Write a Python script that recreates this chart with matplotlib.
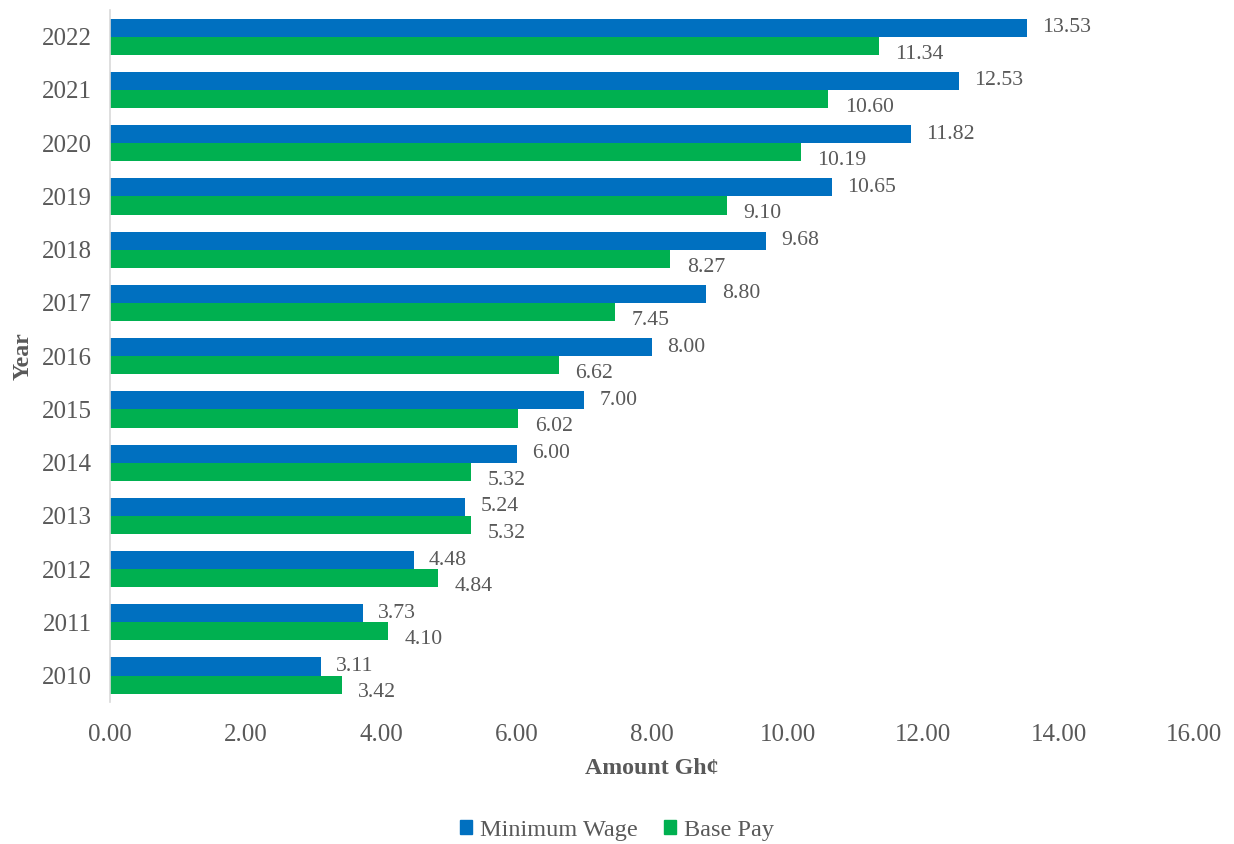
import matplotlib
matplotlib.use("Agg")
import matplotlib.pyplot as plt
import numpy as np
from matplotlib.patches import Patch

# datos
anios = ["2010", "2011", "2012", "2013", "2014", "2015", "2016",
         "2017", "2018", "2019", "2020", "2021", "2022"]
salario_minimo = [3.11, 3.73, 4.48, 5.24, 6.00, 7.00, 8.00, 8.80, 9.68, 10.65, 11.82, 12.53, 13.53]
pago_base = [3.42, 4.10, 4.84, 5.32, 5.32, 6.02, 6.62, 7.45, 8.27, 9.10, 10.19, 10.60, 11.34]

AZUL = "#0070C0"
VERDE = "#00B050"
GRIS = "#595959"

plt.rcParams["font.family"] = ["Liberation Serif", "DejaVu Serif"]

fig = plt.figure(figsize=(12.34, 8.44), dpi=100)
ax = fig.add_axes([0.0891, 0.168, 0.8788, 0.820])

y = np.arange(len(anios))
alto = 0.34
ax.barh(y + alto / 2, salario_minimo, height=alto, color=AZUL, label="Minimum Wage")
ax.barh(y - alto / 2, pago_base, height=alto, color=VERDE, label="Base Pay")

# etiquetas de datos (las verdes quedan un poco mas abajo, como en Excel)
for yi, v in zip(y, salario_minimo):
    ax.annotate(f"{v:.2f}", xy=(v, yi + alto / 2), xytext=(11, 0), textcoords="offset points",
                va="center", ha="left", fontsize=15.7, color=GRIS)
for yi, v in zip(y, pago_base):
    ax.annotate(f"{v:.2f}", xy=(v, yi - alto / 2), xytext=(12, -6), textcoords="offset points",
                va="center", ha="left", fontsize=15.7, color=GRIS)

ax.set_xlim(0, 16)
ax.set_ylim(-0.5, len(anios) - 0.5)
ax.set_xticks(np.arange(0, 17, 2))
ax.set_xticklabels([f"{v:.2f}" for v in np.arange(0, 17, 2)])
ax.set_yticks(y)
ax.set_yticklabels(anios)
ax.tick_params(axis="both", length=0, labelsize=18, labelcolor=GRIS)
ax.tick_params(axis="x", pad=16)
ax.tick_params(axis="y", pad=13)

for lado in ("top", "right", "bottom"):
    ax.spines[lado].set_visible(False)
ax.spines["left"].set_color("#D9D9D9")
ax.spines["left"].set_linewidth(1.2)

ax.set_xlabel("Amount Gh\u00a2", fontsize=17.2, fontweight="bold", color=GRIS, labelpad=8)
ax.set_ylabel("Year", fontsize=17.2, fontweight="bold", color=GRIS, labelpad=6)

manejadores = [Patch(color=AZUL, label="Minimum Wage"), Patch(color=VERDE, label="Base Pay")]
fig.legend(handles=manejadores, loc="center", bbox_to_anchor=(0.5, 0.016), ncol=2,
           frameon=False, fontsize=17.5, labelcolor=GRIS, handlelength=0.5,
           handleheight=0.5, handletextpad=0.3, columnspacing=1.1)

fig.savefig("out.png", dpi=100)
